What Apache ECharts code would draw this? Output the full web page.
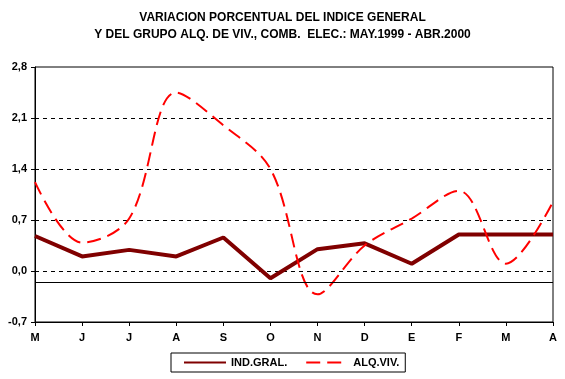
<!DOCTYPE html>
<html><head><meta charset="utf-8">
<script src="https://cdn.jsdelivr.net/npm/echarts@6/dist/echarts.min.js"></script>
<style>html,body{margin:0;padding:0;background:#fff}#c{width:565px;height:379px}</style>
</head><body><div id="c"></div>
<script>
var categories = ['M','J','J','A','S','O','N','D','E','F','M','A'];
var indGral = [0.48, 0.2, 0.29, 0.2, 0.46, -0.1, 0.3, 0.38, 0.1, 0.5, 0.5, 0.5];
var alqViv = [1.22, 0.39, 0.72, 2.45, 2.0, 1.4, -0.32, 0.35, 0.72, 1.1, 0.1, 0.95];
var yTicks = [-0.7, 0.0, 0.7, 1.4, 2.1, 2.8];
var baseLine = -0.155;
var titleText = 'VARIACION PORCENTUAL DEL INDICE GENERAL\nY DEL GRUPO ALQ. DE VIV., COMB.  ELEC.: MAY.1999 - ABR.2000';

var chart = echarts.init(document.getElementById('c'), null, {renderer: 'canvas'});
var font = 'Liberation Sans, Arial, sans-serif';
chart.setOption({
  animation: false,
  title: {
    text: titleText, left: 'center', top: 4,
    textStyle: {fontFamily: font, fontSize: 12, fontWeight: 'bold', color: '#000', lineHeight: 17}
  },
  legend: {
    left: 171, top: 353,
    padding: [4, 6, 4, 12],
    borderColor: '#000', borderWidth: 1,
    itemWidth: 42, itemHeight: 12, itemGap: 18,
    itemStyle: {opacity: 0},
    textStyle: {fontFamily: font, fontSize: 11, fontWeight: 'bold', color: '#000'},
    data: ['IND.GRAL.', 'ALQ.VIV.']
  },
  grid: {left: 35, right: 12, top: 67, bottom: 57, show: true, borderColor: '#000', borderWidth: 1},
  xAxis: {
    type: 'category', data: categories, boundaryGap: false,
    axisLine: {onZero: false, lineStyle: {color: '#000', width: 1}},
    axisTick: {show: true, alignWithLabel: true, length: 4, lineStyle: {color: '#000'}},
    axisLabel: {fontFamily: font, fontSize: 11, fontWeight: 'bold', color: '#000', margin: 10},
    splitLine: {show: false}
  },
  yAxis: {
    type: 'value', min: yTicks[0], max: yTicks[yTicks.length - 1], interval: 0.7,
    axisLine: {show: true, lineStyle: {color: '#000'}},
    axisTick: {show: true, length: 4, lineStyle: {color: '#000'}},
    axisLabel: {fontFamily: font, fontSize: 11, fontWeight: 'bold', color: '#000', margin: 8,
      formatter: function (v) { return v.toFixed(1).replace('.', ','); }},
    splitLine: {show: true, showMaxLine: false, showMinLine: false, lineStyle: {color: '#000', type: [4, 4], width: 1}}
  },
  series: [
    {
      name: 'IND.GRAL.', type: 'line', data: indGral, symbol: 'none',
      lineStyle: {color: '#800000', width: 4}, itemStyle: {color: '#800000'},
      markLine: {
        silent: true, symbol: 'none', label: {show: false},
        lineStyle: {color: '#000', type: 'solid', width: 1},
        data: [{yAxis: baseLine}]
      }
    },
    {
      name: 'ALQ.VIV.', type: 'line', data: alqViv, symbol: 'none', smooth: 0.35,
      lineStyle: {color: '#ff0000', width: 2, type: [14, 7]}, itemStyle: {color: '#ff0000'}
    }
  ]
});
</script></body></html>
